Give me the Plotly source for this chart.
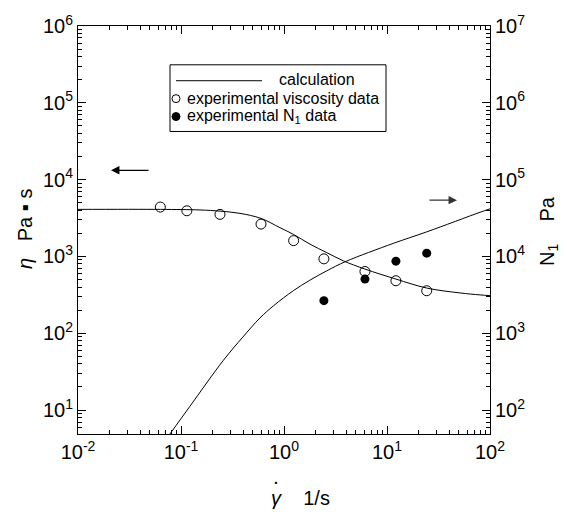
import plotly.graph_objects as go

# ---- data ----
visc_calc_x = [0.01, 0.063, 0.153, 0.239, 0.374, 0.598, 0.914, 1.23, 1.79, 2.60, 3.77, 6.11, 12.2, 24.3, 51.2, 80.0, 100.0]
visc_calc_y = [4100, 4100, 4030, 3890, 3640, 3130, 2370, 1945, 1445, 1122, 877, 685, 508, 388, 335, 316, 309]

n1_calc_x = [0.0782, 0.122, 0.258, 0.398, 0.585, 0.794, 1.23, 1.78, 2.60, 3.98, 11.5, 24.3, 80.0, 100.0]
n1_calc_y = [49, 112, 445, 891, 1585, 2290, 3580, 4900, 6500, 8610, 14800, 20900, 37600, 41700]

visc_exp_x = [0.063, 0.114, 0.239, 0.598, 1.24, 2.44, 6.11, 12.2, 24.3]
visc_exp_y = [4395, 3935, 3530, 2640, 1607, 931, 637, 483, 358]

n1_exp_x = [2.44, 6.11, 12.2, 24.3]
n1_exp_y = [2660, 5080, 8690, 11040]

x_tickvals = [1e-2, 1e-1, 1e0, 1e1, 1e2]
x_ticktext = ["10<sup>-2</sup>", "10<sup>-1</sup>", "10<sup>0</sup>", "10<sup>1</sup>", "10<sup>2</sup>"]
y_tickvals = [1e1, 1e2, 1e3, 1e4, 1e5, 1e6]
y_ticktext = ["10<sup>1</sup>", "10<sup>2</sup>", "10<sup>3</sup>", "10<sup>4</sup>", "10<sup>5</sup>", "10<sup>6</sup>"]
y2_tickvals = [1e2, 1e3, 1e4, 1e5, 1e6, 1e7]
y2_ticktext = ["10<sup>2</sup>", "10<sup>3</sup>", "10<sup>4</sup>", "10<sup>5</sup>", "10<sup>6</sup>", "10<sup>7</sup>"]

legend_labels = ["calculation", "experimental viscosity data", "experimental N<sub>1</sub> data"]

# ---- layout geometry ----
W, H = 567, 512
ML, MR, MT, MB = 78, 77, 24, 78
PW, PH = W - ML - MR, H - MT - MB

def px(x):
    return (x - ML) / PW

def py(y):
    return (H - MB - y) / PH

def minor_vals(lo, hi):
    return [m * 10 ** e for e in range(lo, hi) for m in range(2, 10)]

FONT = "Liberation Sans, Arial, sans-serif"

fig = go.Figure()
fig.add_trace(go.Scatter(x=visc_calc_x, y=visc_calc_y, mode="lines", line=dict(color="black", width=1, shape="spline"), yaxis="y", showlegend=False))
fig.add_trace(go.Scatter(x=n1_calc_x, y=n1_calc_y, mode="lines", line=dict(color="black", width=1, shape="spline"), yaxis="y2", showlegend=False))
fig.add_trace(go.Scatter(x=visc_exp_x, y=visc_exp_y, mode="markers", marker=dict(symbol="circle-open", size=10, color="black", line=dict(width=1)), yaxis="y", showlegend=False))
fig.add_trace(go.Scatter(x=n1_exp_x, y=n1_exp_y, mode="markers", marker=dict(symbol="circle", size=9, color="black"), yaxis="y2", showlegend=False))

axis_common = dict(type="log", showline=True, linecolor="black", linewidth=1, ticks="inside", ticklen=8,
                   tickcolor="black", showgrid=False, zeroline=False, tickfont=dict(family=FONT, size=20, color="black"))

fig.update_layout(
    width=W, height=H, margin=dict(l=ML, r=MR, t=MT, b=MB),
    paper_bgcolor="white", plot_bgcolor="white",
    xaxis=dict(**axis_common, range=[-2, 2], mirror="ticks", tickmode="array", tickvals=x_tickvals, ticktext=x_ticktext,
               minor=dict(ticks="inside", ticklen=4, tickcolor="black", tickmode="array", tickvals=minor_vals(-2, 2))),
    yaxis=dict(**axis_common, range=[0.689, 6], tickmode="array", tickvals=y_tickvals, ticktext=y_ticktext,
               minor=dict(ticks="inside", ticklen=4, tickcolor="black", tickmode="array", tickvals=minor_vals(0, 6))),
    yaxis2=dict(**axis_common, range=[1.689, 7], overlaying="y", side="right", tickmode="array", tickvals=y2_tickvals, ticktext=y2_ticktext,
                minor=dict(ticks="inside", ticklen=4, tickcolor="black", tickmode="array", tickvals=minor_vals(1, 7))),
)

# ---- manual legend ----
shapes = [
    dict(type="rect", xref="paper", yref="paper", x0=px(170), x1=px(386), y0=py(130), y1=py(63), line=dict(color="black", width=1)),
    dict(type="line", xref="paper", yref="paper", x0=px(176), x1=px(262), y0=py(79), y1=py(79), line=dict(color="black", width=1)),
    dict(type="circle", xref="paper", yref="paper", x0=px(172), x1=px(180), y0=py(101), y1=py(93), line=dict(color="black", width=1)),
    dict(type="circle", xref="paper", yref="paper", x0=px(172), x1=px(180), y0=py(119), y1=py(111), line=dict(color="black", width=1), fillcolor="black"),
]
fig.update_layout(shapes=shapes)

ann = [
    dict(text=legend_labels[0], x=px(277), y=py(78), xanchor="left", yanchor="middle"),
    dict(text=legend_labels[1], x=px(185), y=py(97), xanchor="left", yanchor="middle"),
    dict(text=legend_labels[2], x=px(185), y=py(115), xanchor="left", yanchor="middle"),
]
annotations = []
for a in ann:
    annotations.append(dict(**a, xref="paper", yref="paper", showarrow=False, font=dict(family=FONT, size=16, color="black")))

# axis titles
annotations.append(dict(text="<i>η</i>   Pa ▪ s", x=px(25), y=py(228), xref="paper", yref="paper", showarrow=False, textangle=-90,
                        xanchor="center", yanchor="middle", font=dict(family=FONT, size=20, color="black")))
annotations.append(dict(text="N<sub>1</sub>    Pa", x=px(549), y=py(230), xref="paper", yref="paper", showarrow=False, textangle=-90,
                        xanchor="center", yanchor="middle", font=dict(family=FONT, size=20, color="black")))
annotations.append(dict(text="<i>γ</i>    1/s", x=px(300), y=py(498), xref="paper", yref="paper", showarrow=False,
                        xanchor="center", yanchor="middle", font=dict(family=FONT, size=20, color="black")))
annotations.append(dict(text="<b>.</b>", x=px(276), y=py(479), xref="paper", yref="paper", showarrow=False,
                        xanchor="center", yanchor="middle", font=dict(family=FONT, size=14, color="black")))

# arrows
annotations.append(dict(text="", x=px(111), y=py(169), ax=39, ay=0, xref="paper", yref="paper", showarrow=True,
                        arrowhead=2, arrowsize=1.3, arrowwidth=1.3, arrowcolor="black"))
annotations.append(dict(text="", x=px(457), y=py(199), ax=-29, ay=0, xref="paper", yref="paper", showarrow=True,
                        arrowhead=2, arrowsize=1.3, arrowwidth=1.3, arrowcolor="#333333"))

fig.update_layout(annotations=annotations)

fig.write_html("out.html")
